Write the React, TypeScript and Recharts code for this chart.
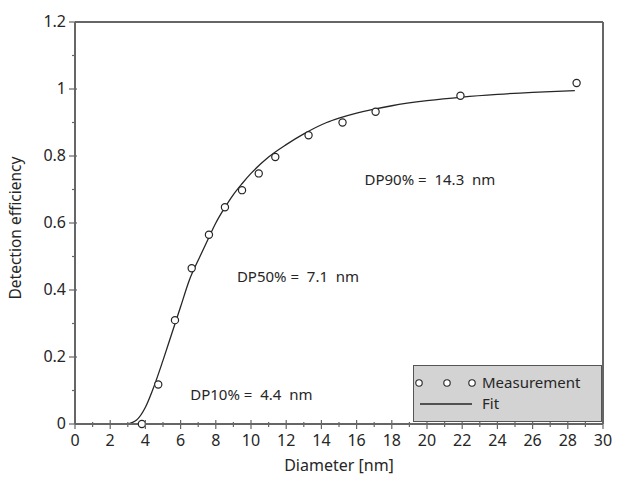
import React from "react";
import {
  ComposedChart,
  Line,
  Scatter,
  XAxis,
  YAxis,
  ReferenceLine,
  ReferenceDot,
  Legend,
  Label,
} from "recharts";

const measDiameter = [3.8, 4.73, 5.68, 6.63, 7.61, 8.52, 9.49, 10.44, 11.38, 13.27, 15.2, 17.08, 21.9, 28.5];
const measEfficiency = [0.0, 0.118, 0.31, 0.465, 0.565, 0.647, 0.698, 0.748, 0.797, 0.862, 0.9, 0.932, 0.98, 1.018];

// fitted curve, sampled from the figure
const fitDiameter = [2.95, 3.5, 4.0, 4.4, 5.0, 5.5, 6.0, 6.5, 7.1, 7.5, 8.0, 8.5, 9.0, 9.5, 10, 11, 12, 13, 14.3, 15, 16, 17, 18, 20, 22, 24, 26, 28.4];
const fitEfficiency = [0, 0.012, 0.05, 0.1, 0.19, 0.27, 0.35, 0.43, 0.5, 0.545, 0.6, 0.645, 0.685, 0.718, 0.748, 0.797, 0.834, 0.866, 0.9, 0.913, 0.928, 0.94, 0.95, 0.965, 0.976, 0.984, 0.99, 0.995];

const xTicks = Array.from({ length: 31 }, (_, i) => i);
const yTicks = [0, 0.1, 0.2, 0.3, 0.4, 0.5, 0.6, 0.7, 0.8, 0.9, 1, 1.1, 1.2];
const yTickLabels: Record<string, string> = { "0": "0", "0.2": "0.2", "0.4": "0.4", "0.6": "0.6", "0.8": "0.8", "1": "1", "1.2": "1.2" };

const annotations = [
  { text: "DP90% =\u00a0 14.3\u00a0 nm", x: 16.45, y: 0.728 },
  { text: "DP50% =\u00a0 7.1\u00a0 nm", x: 9.2, y: 0.439 },
  { text: "DP10% =\u00a0 4.4\u00a0 nm", x: 6.55, y: 0.087 },
];

const measData = measDiameter.map((d, i) => ({ d, e: measEfficiency[i] }));
const fitData = fitDiameter.map((d, i) => ({ d, e: fitEfficiency[i] }));

const FONT = "'Noto Sans', 'DejaVu Sans', sans-serif";
const AXIS = "#666";
const INK = "#262626";

function XTick(props: any) {
  const { x, y, payload } = props;
  const v = payload.value;
  const major = v % 2 === 0;
  return (
    <g>
      <line x1={x} x2={x} y1={y - (major ? 4 : 2)} y2={y + (major ? 5 : 3)} stroke={AXIS} strokeWidth={1.2} />
      {major && (
        <text x={x} y={y + 22} textAnchor="middle" fontSize={16} fill={INK} fontFamily={FONT}>
          {v}
        </text>
      )}
    </g>
  );
}

function YTick(props: any) {
  const { x, y, payload } = props;
  const lab = yTickLabels[String(+payload.value.toFixed(1))];
  return (
    <g>
      <line x1={x - (lab ? 6 : 3)} x2={x + (lab ? 2 : 0)} y1={y} y2={y} stroke={AXIS} strokeWidth={1.2} />
      {lab && (
        <text x={x - 9} y={y + 5} textAnchor="end" fontSize={16} fill={INK} fontFamily={FONT}>
          {lab}
        </text>
      )}
    </g>
  );
}

function Circle(props: any) {
  const { cx, cy } = props;
  return <circle cx={cx} cy={cy} r={3.6} fill="#fff" stroke={INK} strokeWidth={1.2} />;
}

function LegendBox() {
  return (
    <div
      style={{
        width: 189,
        height: 57,
        boxSizing: "border-box",
        background: "#d3d3d3",
        border: "1.5px solid #555",
        fontFamily: FONT,
        fontSize: 15,
        color: INK,
        position: "relative",
      }}
    >
      <svg width={70} height={50} style={{ position: "absolute", left: 0, top: 0 }}>
        <circle cx={5} cy={17} r={3.2} fill="#fff" stroke={INK} strokeWidth={1.1} />
        <circle cx={33} cy={17} r={3.2} fill="#fff" stroke={INK} strokeWidth={1.1} />
        <circle cx={58} cy={17} r={3.2} fill="#fff" stroke={INK} strokeWidth={1.1} />
        <line x1={6} x2={58} y1={38} y2={38} stroke={INK} strokeWidth={1.3} />
      </svg>
      <div style={{ position: "absolute", left: 68, top: 6, lineHeight: "20px" }}>Measurement</div>
      <div style={{ position: "absolute", left: 68, top: 27, lineHeight: "20px" }}>Fit</div>
    </div>
  );
}

export default function App() {
  return (
    <div style={{ position: "absolute", left: 0, top: 0, width: 630, height: 481, background: "#fff" }}>
      <ComposedChart width={630} height={481} margin={{ top: 22, right: 27, bottom: 27, left: 30 }}>
        <XAxis
          dataKey="d"
          type="number"
          domain={[0, 30]}
          ticks={xTicks}
          interval={0}
          tick={<XTick />}
          tickLine={false}
          tickSize={0}
          tickMargin={0}
          height={30}
          stroke={AXIS}
          strokeWidth={2}
          allowDuplicatedCategory={false}
        >
          <Label
            content={(p: any) => (
              <text
                x={p.viewBox.x + p.viewBox.width / 2}
                y={p.viewBox.y + 47}
                textAnchor="middle"
                fontSize={16}
                fill={INK}
                fontFamily={FONT}
              >
                Diameter [nm]
              </text>
            )}
          />
        </XAxis>
        <YAxis
          dataKey="e"
          type="number"
          domain={[0, 1.2]}
          ticks={yTicks}
          interval={0}
          tick={<YTick />}
          tickLine={false}
          tickSize={0}
          tickMargin={0}
          width={45}
          stroke={AXIS}
          strokeWidth={2}
        >
          <Label
            content={(p: any) => {
              const cx = p.viewBox.x - 9;
              const cy = p.viewBox.y + p.viewBox.height / 2 + 5;
              return (
                <text
                  x={cx}
                  y={cy}
                  transform={`rotate(-90 ${cx} ${cy})`}
                  textAnchor="middle"
                  fontSize={15.5}
                  fill={INK}
                  fontFamily={FONT}
                >
                  Detection efficiency
                </text>
              );
            }}
          />
        </YAxis>
        <ReferenceLine y={1.2} stroke={AXIS} strokeWidth={2} ifOverflow="visible" />
        <ReferenceLine x={30} stroke={AXIS} strokeWidth={2} ifOverflow="visible" />
        <Line
          data={fitData}
          dataKey="e"
          type="monotone"
          stroke={INK}
          strokeWidth={1.3}
          dot={false}
          name="Fit"
          isAnimationActive={false}
        />
        <Scatter data={measData} dataKey="e" shape={<Circle />} name="Measurement" isAnimationActive={false} />
        {annotations.map((a) => (
          <ReferenceDot
            key={a.text}
            x={a.x}
            y={a.y}
            r={0}
            fill="none"
            stroke="none"
            ifOverflow="visible"
            label={{ value: a.text, position: "right", offset: 0, fontSize: 15, fill: INK, fontFamily: FONT }}
          />
        ))}
        <Legend
          layout="horizontal"
          verticalAlign="middle"
          align="center"
          content={() => <LegendBox />}
          wrapperStyle={{ position: "absolute", left: 413, top: 365, width: 189, height: 57 }}
        />
      </ComposedChart>
    </div>
  );
}
